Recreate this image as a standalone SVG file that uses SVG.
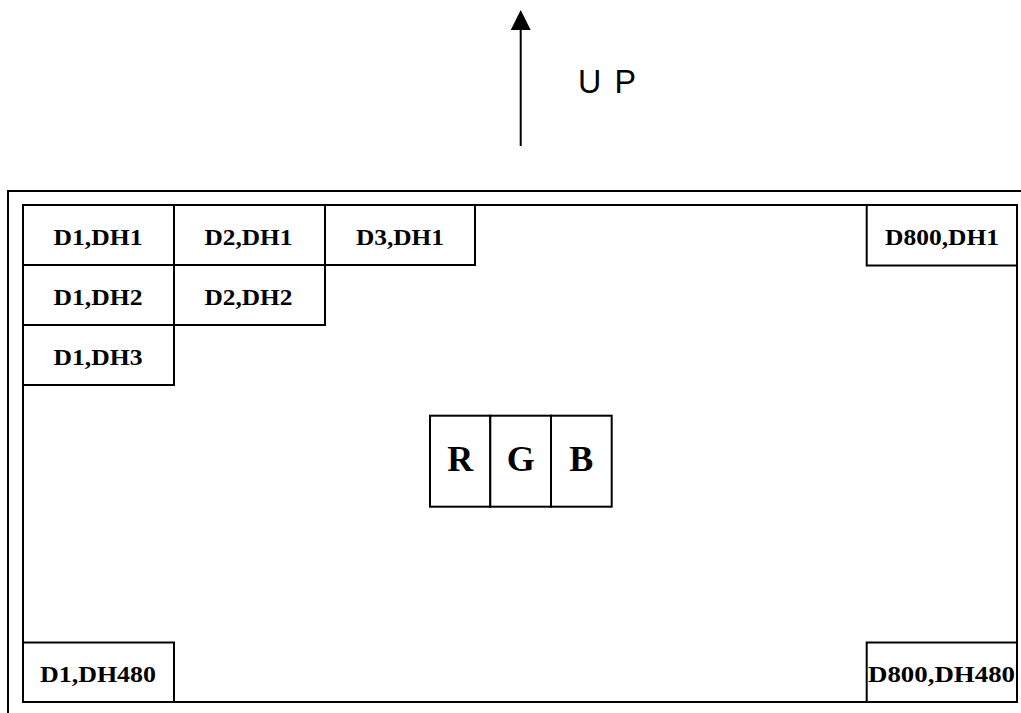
<svg xmlns="http://www.w3.org/2000/svg" width="1021" height="713" viewBox="0 0 1021 713">
<style>
.frame{fill:none;stroke:#000;stroke-width:2}
.cell{fill:#fff;stroke:#000;stroke-width:2}
.lbl{font-family:"Liberation Serif","Times New Roman",serif;font-weight:bold;font-size:24px;text-anchor:middle;fill:#000}
.big{font-family:"Liberation Serif","Times New Roman",serif;font-weight:bold;font-size:36px;text-anchor:middle;fill:#000}
.up{font-family:"Liberation Sans",Arial,sans-serif;font-size:34px;fill:#000}
</style>
<defs>
<marker id="ah" markerWidth="20" markerHeight="20" viewBox="0 0 20 20" refX="0" refY="10" orient="auto" markerUnits="userSpaceOnUse">
<path d="M0,0 L20,10 L0,20 Z" fill="#000"/>
</marker>
</defs>
<rect width="1021" height="713" fill="#fff"/>
<g id="outer-frame"><rect class="frame" x="8" y="191" width="1100" height="600"/></g>
<g id="screen"><rect class="frame" x="23" y="205" width="994" height="497"/></g>
<g id="connectors">
<line x1="520.7" y1="146" x2="520.7" y2="30" stroke="#000" stroke-width="2" marker-end="url(#ah)"/>
</g>
<g id="up-label"><text class="up" x="578" y="93" textLength="58" lengthAdjust="spacingAndGlyphs">U<tspan dx="14">P</tspan></text></g>
<g id="d1dh1"><rect class="cell" x="23" y="205" width="151" height="60"/><text class="lbl" x="98" y="244.5" textLength="89" lengthAdjust="spacingAndGlyphs">D1,DH1</text></g>
<g id="d2dh1"><rect class="cell" x="174" y="205" width="151" height="60"/><text class="lbl" x="248.5" y="244.5" textLength="88" lengthAdjust="spacingAndGlyphs">D2,DH1</text></g>
<g id="d3dh1"><rect class="cell" x="325" y="205" width="150" height="60"/><text class="lbl" x="400" y="244.5" textLength="88" lengthAdjust="spacingAndGlyphs">D3,DH1</text></g>
<g id="d1dh2"><rect class="cell" x="23" y="265" width="151" height="60"/><text class="lbl" x="98" y="304.5" textLength="89" lengthAdjust="spacingAndGlyphs">D1,DH2</text></g>
<g id="d2dh2"><rect class="cell" x="174" y="265" width="151" height="60"/><text class="lbl" x="248.5" y="304.5" textLength="88" lengthAdjust="spacingAndGlyphs">D2,DH2</text></g>
<g id="d1dh3"><rect class="cell" x="23" y="325" width="151" height="60"/><text class="lbl" x="98" y="364.5" textLength="89" lengthAdjust="spacingAndGlyphs">D1,DH3</text></g>
<g id="d800dh1"><rect class="cell" x="866.7" y="205" width="150.3" height="60.5"/><text class="lbl" x="942" y="244.5" textLength="114" lengthAdjust="spacingAndGlyphs">D800,DH1</text></g>
<g id="d1dh480"><rect class="cell" x="23" y="642.5" width="151" height="59.5"/><text class="lbl" x="98" y="681.5" textLength="116" lengthAdjust="spacingAndGlyphs">D1,DH480</text></g>
<g id="d800dh480"><rect class="cell" x="866.7" y="642.5" width="150.3" height="59.5"/><text class="lbl" x="941.5" y="681.5" textLength="147" lengthAdjust="spacingAndGlyphs">D800,DH480</text></g>
<g id="rgb">
<rect class="cell" x="430" y="415.7" width="60.3" height="91"/>
<rect class="cell" x="490.3" y="415.7" width="60.7" height="91"/>
<rect class="cell" x="551" y="415.7" width="60.7" height="91"/>
<text class="big" x="460.2" y="471">R</text>
<text class="big" x="520.7" y="471">G</text>
<text class="big" x="581.3" y="471">B</text>
</g>
</svg>
